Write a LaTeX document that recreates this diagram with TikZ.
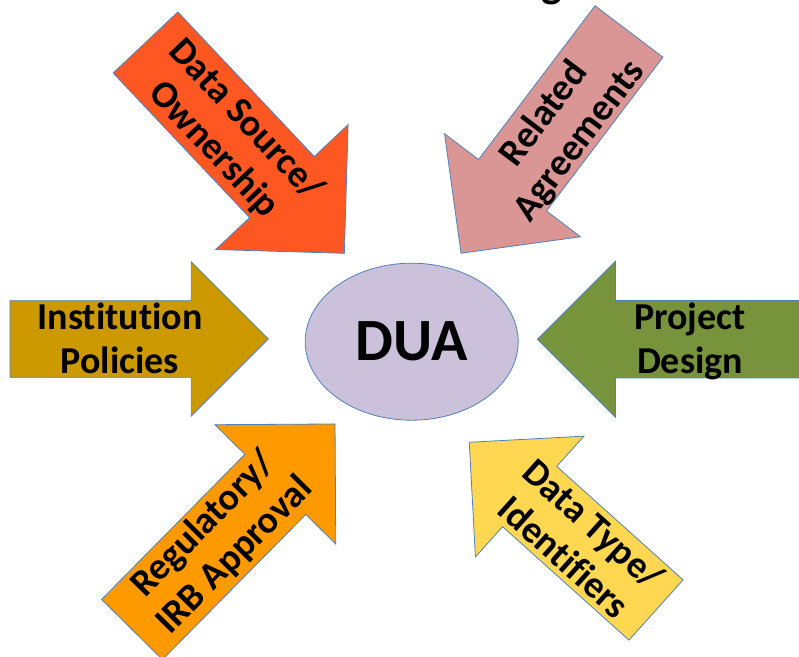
\documentclass[tikz,border=0pt]{standalone}
\usepackage{fontspec}
\setmainfont{Carlito}[Ligatures=NoCommon]
\usetikzlibrary{shapes.geometric}

\definecolor{edgeblue}{RGB}{79,129,189}
\definecolor{srcred}{RGB}{254,87,34}
\definecolor{relpink}{RGB}{217,150,148}
\definecolor{instgold}{RGB}{204,153,0}
\definecolor{projgreen}{RGB}{119,147,60}
\definecolor{regorange}{RGB}{255,153,0}
\definecolor{typyellow}{RGB}{255,215,80}
\definecolor{duafill}{RGB}{204,193,218}

\tikzset{
  blockarrow/.style={draw=edgeblue, line width=0.8pt, line join=miter},
  arrowtext/.style={font=\fontsize{38}{44}\selectfont\bfseries, align=center, inner sep=0pt},
}

\begin{document}
\begin{tikzpicture}[x=1pt,y=1pt]
    \useasboundingbox (0,0) rectangle (799,656);

    % heading, only the bottom of it shows
    \node[anchor=base, font=\fontsize{44}{52}\selectfont\bfseries] (title) at (551.5,658) {g};

    % the agreement in the middle
    \node[ellipse, draw=edgeblue, line width=0.8pt, fill=duafill, minimum width=213pt, minimum height=157pt, inner sep=0pt,
          font=\fontsize{60}{68}\selectfont\bfseries] (dua) at (411.7,314.3) {DUA};

    % Data Source / Ownership (top left)
    \begin{scope}[shift={(145.5,613.5)}, rotate=-46.67]
        \filldraw[blockarrow, fill=srcred] (0,44.5) -- (198.8,44.5) -- (198.8,91) -- (289.8,0) -- (198.8,-91) -- (198.8,-44.5) -- (0,-44.5) -- cycle;
        \node[arrowtext, rotate=-46.67] (src) at (125,-4) {\strut Data Source/\\Ownership\strut};
    \end{scope}

    % Related Agreements (top right)
    \begin{scope}[shift={(629,624.5)}, rotate=-127.15]
        \filldraw[blockarrow, fill=relpink] (0,42.6) -- (192.9,42.6) -- (192.9,85.3) -- (278.2,0) -- (192.9,-85.3) -- (192.9,-42.6) -- (0,-42.6) -- cycle;
        \node[arrowtext, rotate=52.85] (rel) at (117,6) {\strut Related\\Agreements\strut};
    \end{scope}

    % Institution Policies (left)
    \begin{scope}[shift={(10,317)}]
        \filldraw[blockarrow, fill=instgold] (0,38.3) -- (181.3,38.3) -- (181.3,77) -- (258.3,0) -- (181.3,-77) -- (181.3,-38.3) -- (0,-38.3) -- cycle;
        \node[arrowtext] (inst) at (110,-3.4) {\strut Institution\\Policies\strut};
    \end{scope}

    % Project Design (right), runs off the edge
    \begin{scope}[shift={(820,316.7)}, rotate=180]
        \filldraw[blockarrow, fill=projgreen] (0,38.7) -- (204.5,38.7) -- (204.5,78) -- (282.5,0) -- (204.5,-78) -- (204.5,-38.7) -- (0,-38.7) -- cycle;
        \node[arrowtext] (proj) at (130,3.9) {\strut Project\\Design\strut};
    \end{scope}

    % Regulatory / IRB Approval (bottom left)
    \begin{scope}[shift={(132,26.5)}, rotate=45.35]
        \filldraw[blockarrow, fill=regorange] (0,42.8) -- (204,42.8) -- (204,84.9) -- (288.9,0) -- (204,-84.9) -- (204,-42.8) -- (0,-42.8) -- cycle;
        \node[arrowtext, rotate=45.35] (reg) at (125,-1) {\strut Regulatory/\\IRB Approval\strut};
    \end{scope}

    % Data Type / Identifiers (bottom right)
    \begin{scope}[shift={(656,46)}, rotate=138.07]
        \filldraw[blockarrow, fill=typyellow] (0,40.5) -- (169.8,40.5) -- (169.8,81.2) -- (251,0) -- (169.8,-81.2) -- (169.8,-40.5) -- (0,-40.5) -- cycle;
        \node[arrowtext, rotate=-41.93] (typ) at (104,4) {\strut Data Type/\\Identifiers\strut};
    \end{scope}

\end{tikzpicture}
\end{document}
